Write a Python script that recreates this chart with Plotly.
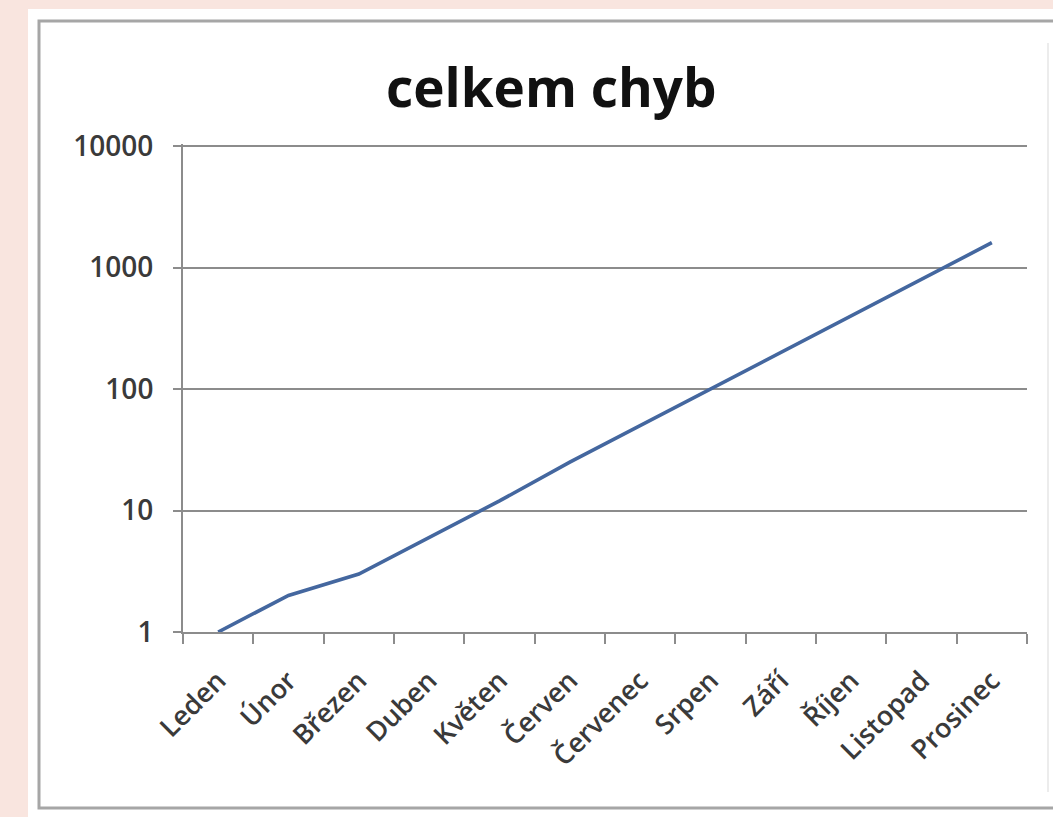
import plotly.graph_objects as go

# Monthly error counts (log scale chart)
months = ["Leden", "Únor", "Březen", "Duben", "Květen", "Červen",
          "Červenec", "Srpen", "Září", "Říjen", "Listopad", "Prosinec"]
errors = [1, 2, 3, 6, 12, 25, 50, 100, 200, 400, 800, 1600]
y_ticks = [1, 10, 100, 1000, 10000]
y_tick_labels = ["1", "10", "100", "1000", "10000"]
title_text = "celkem chyb"

# Page geometry (pixels)
W, H = 1053, 817
L, R, T, B = 183, 26, 144, 185
PW, PH = W - L - R, H - T - B


def fx(x):
    return (x - L) / PW


def fy(y):
    return 1 - (y - T) / PH


GRID = "#8c8c8c"
TEXT = "#3a3a3a"
FONT = "Open Sans"

fig = go.Figure()
fig.add_trace(go.Scatter(
    x=months, y=errors, mode="lines",
    line=dict(color="#44679f", width=3.6),
    hoverinfo="x+y", showlegend=False,
))

fig.update_layout(
    width=W, height=H,
    margin=dict(l=L, r=R, t=T, b=B, pad=0),
    paper_bgcolor="#f9e5df",
    plot_bgcolor="rgba(0,0,0,0)",
    font=dict(family=FONT, color=TEXT),
    shapes=[
        # white chart card
        dict(type="rect", xref="paper", yref="paper", layer="below",
             x0=fx(28), x1=fx(1070), y0=fy(9), y1=fy(830),
             fillcolor="white", line=dict(width=0)),
        # chart border
        dict(type="rect", xref="paper", yref="paper", layer="below",
             x0=fx(39), x1=fx(1075), y0=fy(21), y1=fy(808),
             fillcolor="rgba(0,0,0,0)", line=dict(color="#a6a6a6", width=3)),
        # faint inner frame edge
        dict(type="line", xref="paper", yref="paper", layer="below",
             x0=fx(1048), x1=fx(1048), y0=fy(43), y1=fy(792),
             line=dict(color="#ececec", width=2)),
    ],
    annotations=[
        dict(text=title_text, xref="paper", yref="paper",
             x=fx(551), y=fy(87), xanchor="center", yanchor="middle",
             showarrow=False,
             font=dict(family=FONT, size=53, color="#111111", weight="bold")),
    ],
)

fig.update_xaxes(
    type="category",
    range=[-0.5, len(months) - 0.5],
    showgrid=False,
    showline=True, linecolor=GRID, linewidth=2,
    ticks="outside", tickson="boundaries", ticklen=10,
    tickwidth=2, tickcolor=GRID,
    tickangle=-45,
    tickfont=dict(family=FONT, size=27, color=TEXT, weight=600),
    ticklabelstandoff=20,
    zeroline=False,
)

# range extends just past 10^4 so the top grid line is kept
fig.update_yaxes(
    type="log",
    range=[0, 4.0165],
    tickvals=y_ticks, ticktext=y_tick_labels,
    showgrid=True, gridcolor=GRID, gridwidth=2,
    showline=True, linecolor=GRID, linewidth=2,
    ticks="outside", ticklen=8, tickwidth=2, tickcolor=GRID,
    tickfont=dict(family=FONT, size=28, color=TEXT, weight=600),
    ticklabelstandoff=14,
    zeroline=False,
)

fig.write_html("out.html")
